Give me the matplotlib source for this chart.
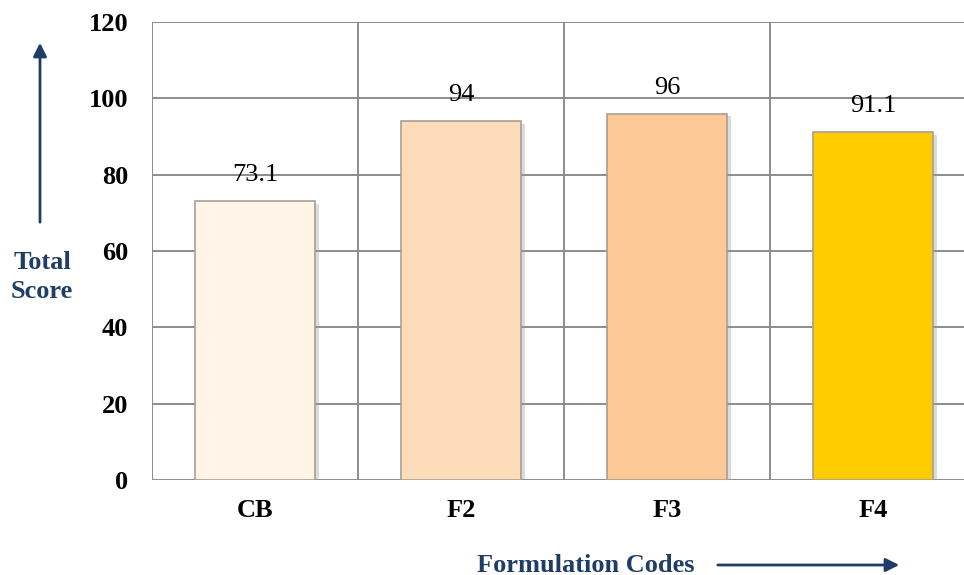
import matplotlib.pyplot as plt
import matplotlib.patheffects as pe
from matplotlib.patches import FancyArrowPatch

# data
codes = ["CB", "F2", "F3", "F4"]
scores = [73.1, 94, 96, 91.1]
score_labels = ["73.1", "94", "96", "91.1"]
bar_colors = ["#FFF4E5", "#FDDDB9", "#FCC896", "#FFCC00"]
yticks = [0, 20, 40, 60, 80, 100, 120]

navy = "#1F3D66"
grid_gray = "#8C8C8C"

plt.rcParams["font.family"] = ["Liberation Serif", "DejaVu Serif"]

fig = plt.figure(figsize=(9.64, 5.75), dpi=100)
ax = fig.add_axes([152 / 964, 95 / 575, 824 / 964, 458 / 575])

# grid: horizontal at each tick, vertical between categories
for y in yticks:
    ax.axhline(y, color=grid_gray, lw=1.4, zorder=1)
for x in range(len(codes) + 1):
    ax.axvline(x - 0.5, color=grid_gray, lw=1.4, zorder=1)

shadow = [pe.SimplePatchShadow(offset=(3, -2), shadow_rgbFace="#9a9a9a", alpha=0.35),
          pe.Normal()]
bars = ax.bar(range(len(codes)), scores, width=0.58, color=bar_colors,
              edgecolor="#a89f92", linewidth=1.2, zorder=3)
for b in bars:
    b.set_path_effects(shadow)

# data labels
for i, v in enumerate(scores):
    ax.text(i, v + 6.8, score_labels[i], ha="center", va="center",
            fontsize=19, color="black", zorder=4)

ax.set_xlim(-0.5, len(codes) - 0.5)
ax.set_ylim(0, 120)
ax.set_yticks(yticks)
ax.set_xticks(range(len(codes)))
ax.set_xticklabels(codes)
ax.tick_params(length=0)
ax.tick_params(axis="y", pad=17, labelsize=19)
ax.tick_params(axis="x", pad=14, labelsize=19)
for lab in ax.get_xticklabels() + ax.get_yticklabels():
    lab.set_fontweight("bold")
for s in ax.spines.values():
    s.set_visible(False)

# axis titles with arrows
fig.text(42 / 964, 1 - 277 / 575, "Total\nScore", ha="center", va="center",
         fontsize=19, fontweight="bold", color=navy, linespacing=1.3)
fig.text(586 / 964, 1 - 565 / 575, "Formulation Codes", ha="center", va="center",
         fontsize=19, fontweight="bold", color=navy)

fig.patches.append(FancyArrowPatch(
    (40 / 964, 1 - 225 / 575), (40 / 964, 1 - 40 / 575), transform=fig.transFigure,
    arrowstyle="-|>,head_length=8,head_width=4", color=navy, lw=2))
fig.patches.append(FancyArrowPatch(
    (715 / 964, 1 - 565 / 575), (902 / 964, 1 - 565 / 575), transform=fig.transFigure,
    arrowstyle="-|>,head_length=8,head_width=4", color=navy, lw=2))

fig.savefig("out.png", dpi=100)
